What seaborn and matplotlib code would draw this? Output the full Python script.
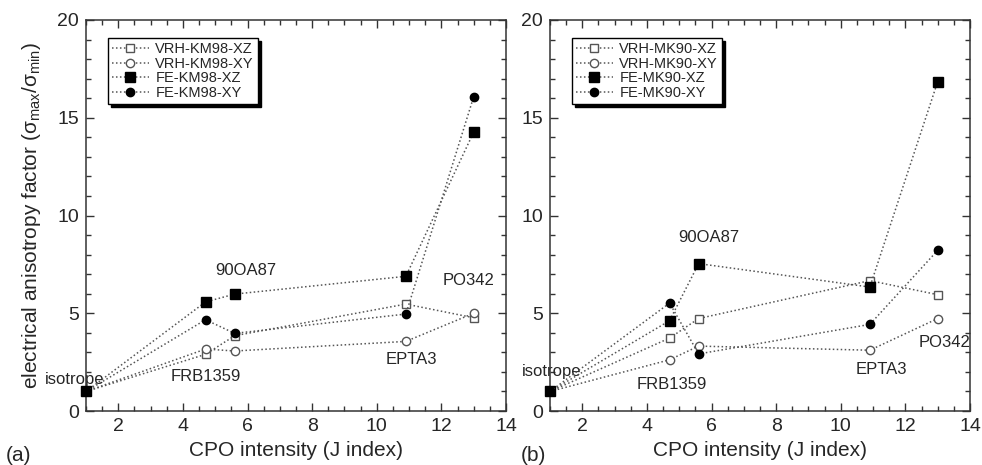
import matplotlib
matplotlib.use("Agg")
import matplotlib.pyplot as plt
import seaborn as sns

# ---- data ----
j_index = [1.0, 4.7, 5.6, 10.9, 13.0]

km98_vrh_xz = [1.0, 2.9, 3.85, 5.47, 4.77]
km98_vrh_xy = [1.0, 3.17, 3.07, 3.56, 5.0]
km98_fe_xz = [1.0, 5.58, 5.98, 6.89, 14.27]
km98_fe_xy = [1.0, 4.67, 3.97, 4.96, 16.08]

mk90_vrh_xz = [1.0, 3.73, 4.73, 6.67, 5.95]
mk90_vrh_xy = [1.0, 2.62, 3.32, 3.11, 4.73]
mk90_fe_xz = [1.0, 4.62, 7.54, 6.34, 16.85]
mk90_fe_xy = [1.0, 5.52, 2.92, 4.43, 8.22]

labels_a = ["VRH-KM98-XZ", "VRH-KM98-XY", "FE-KM98-XZ", "FE-KM98-XY"]
labels_b = ["VRH-MK90-XZ", "VRH-MK90-XY", "FE-MK90-XZ", "FE-MK90-XY"]

sample_names = ["isotrope", "FRB1359", "90OA87", "EPTA3", "PO342"]
sample_pos_a = [(0.65, 1.6), (4.72, 1.75), (5.94, 7.18), (11.08, 2.64), (12.83, 6.66)]
sample_pos_b = [(1.04, 2.02), (4.78, 1.37), (5.92, 8.89), (11.27, 2.14), (13.21, 3.5)]

# ---- style ----
sns.set_theme(style="ticks")
plt.rcParams["font.family"] = ["Liberation Sans", "DejaVu Sans"]
plt.rcParams["mathtext.fontset"] = "custom"
plt.rcParams["mathtext.rm"] = "Liberation Sans"
plt.rcParams["mathtext.it"] = "Liberation Sans:italic"
plt.rcParams["mathtext.default"] = "rm"

LINE = "#555555"
EDGE = "#333333"

fig = plt.figure(figsize=(9.82, 4.65), dpi=100)
ax_a = fig.add_axes([0.0876, 0.1161, 0.4277, 0.8409])
ax_b = fig.add_axes([0.5601, 0.1161, 0.4277, 0.8409])

marker_specs = [
    dict(marker="s", markerfacecolor="white", markeredgecolor="#555555", markersize=6.0),
    dict(marker="o", markerfacecolor="white", markeredgecolor="#555555", markersize=6.0),
    dict(marker="s", markerfacecolor="black", markeredgecolor="black", markersize=6.5),
    dict(marker="o", markerfacecolor="black", markeredgecolor="black", markersize=6.0),
]


def draw_panel(ax, series, labels, samples, positions, panel_tag, ylabel):
    for vals, lab, spec in zip(series, labels, marker_specs):
        sns.lineplot(x=j_index, y=vals, ax=ax, label=lab, color=LINE,
                     linestyle=(0, (1, 1.6)), linewidth=1.1,
                     markeredgewidth=1.0, clip_on=False, zorder=3, **spec)
    ax.set_xlim(1, 14)
    ax.set_ylim(0, 20)
    ax.set_xticks([2, 4, 6, 8, 10, 12, 14])
    ax.set_yticks([0, 5, 10, 15, 20])
    ax.set_xticks([x / 2 for x in range(2, 28)], minor=True)
    ax.set_yticks(list(range(0, 21)), minor=True)
    ax.tick_params(which="both", direction="in", top=True, right=True,
                   color=EDGE, width=1.0, labelsize=14, pad=5)
    ax.tick_params(which="major", length=6)
    ax.tick_params(which="minor", length=3.5)
    for s in ax.spines.values():
        s.set_color(EDGE)
        s.set_linewidth(1.1)
    ax.set_xlabel("CPO intensity (J index)", fontsize=15, labelpad=4)
    if ylabel:
        ax.set_ylabel(r"electrical anisotropy factor ($\sigma_{max}/\sigma_{min}$)",
                      fontsize=15, labelpad=10)
    else:
        ax.set_ylabel("")
    for name, (px, py) in zip(samples, positions):
        ax.text(px, py, name, fontsize=12, ha="center", va="center",
                clip_on=False, zorder=2)
    leg = ax.legend(loc="upper left", bbox_to_anchor=(0.052, 0.954),
                    borderaxespad=0, fontsize=10.5, labelspacing=0.03,
                    handlelength=2.5, handletextpad=0.45, borderpad=0.3,
                    fancybox=False, framealpha=1, edgecolor="black",
                    shadow={"color": "black", "alpha": 1.0})
    leg.get_frame().set_linewidth(1.0)
    ax.text(-0.19 if ylabel else -0.07, -0.115, panel_tag, transform=ax.transAxes,
            fontsize=15, ha="left", va="center")


draw_panel(ax_a, [km98_vrh_xz, km98_vrh_xy, km98_fe_xz, km98_fe_xy], labels_a,
           sample_names, sample_pos_a, "(a)", True)
draw_panel(ax_b, [mk90_vrh_xz, mk90_vrh_xy, mk90_fe_xz, mk90_fe_xy], labels_b,
           sample_names, sample_pos_b, "(b)", False)

fig.savefig("out.png", dpi=100)
